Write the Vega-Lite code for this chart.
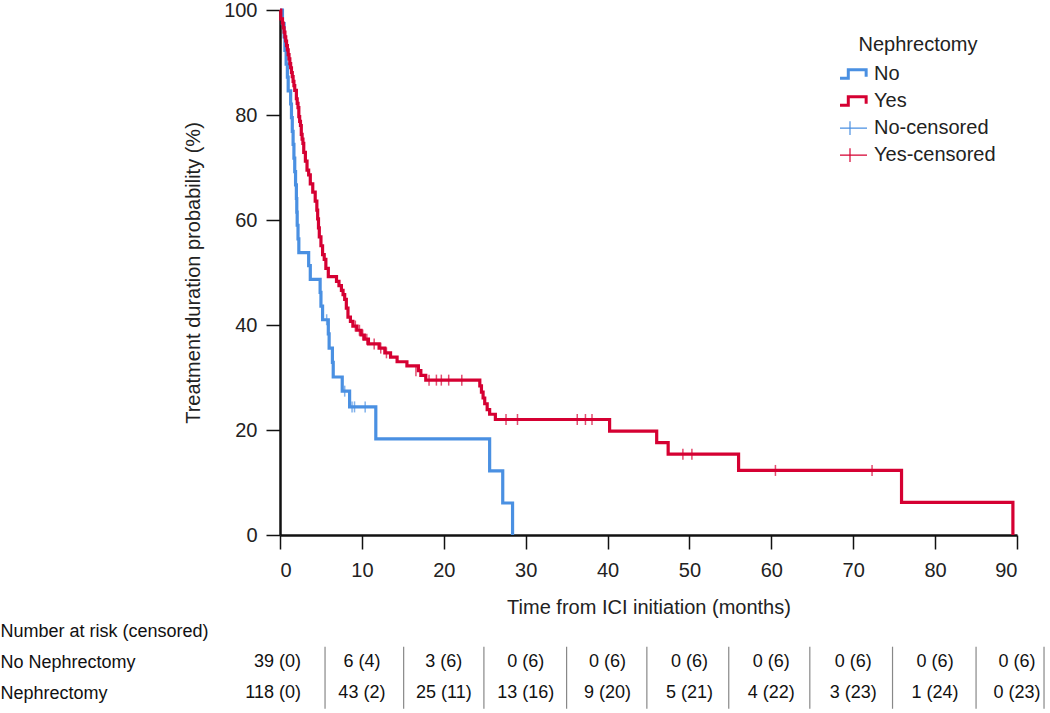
{
  "$schema": "https://vega.github.io/schema/vega-lite/v6.json",
  "background": "white",
  "padding": {"left": 0, "top": 0, "right": 0, "bottom": 0},
  "config": {
    "font": "Liberation Sans",
    "view": {"stroke": null},
    "axis": {"labelColor": "#222", "titleColor": "#222", "labelFont": "Liberation Sans", "titleFont": "Liberation Sans", "titleFontWeight": "normal", "grid": false},
    "legend": {"labelFont": "Liberation Sans", "titleFont": "Liberation Sans"}
  },
  "datasets": {
    "curves": [
      {"group": "No", "t": 0, "s": 100}, {"group": "No", "t": 0.3, "s": 97.4}, {"group": "No", "t": 0.5, "s": 94.9},
      {"group": "No", "t": 0.6, "s": 92.3}, {"group": "No", "t": 0.75, "s": 89.7}, {"group": "No", "t": 0.9, "s": 87.2},
      {"group": "No", "t": 1.0, "s": 84.6}, {"group": "No", "t": 1.3, "s": 82.1}, {"group": "No", "t": 1.4, "s": 79.5},
      {"group": "No", "t": 1.5, "s": 76.9}, {"group": "No", "t": 1.6, "s": 74.4}, {"group": "No", "t": 1.7, "s": 71.8},
      {"group": "No", "t": 1.8, "s": 69.2}, {"group": "No", "t": 1.9, "s": 66.7}, {"group": "No", "t": 2.0, "s": 64.1},
      {"group": "No", "t": 2.05, "s": 61.5}, {"group": "No", "t": 2.1, "s": 59.0}, {"group": "No", "t": 2.2, "s": 56.4},
      {"group": "No", "t": 2.3, "s": 53.8}, {"group": "No", "t": 3.5, "s": 51.3}, {"group": "No", "t": 3.7, "s": 48.7},
      {"group": "No", "t": 4.9, "s": 46.2}, {"group": "No", "t": 5.0, "s": 43.6}, {"group": "No", "t": 5.2, "s": 41.0},
      {"group": "No", "t": 5.9, "s": 38.3}, {"group": "No", "t": 6.0, "s": 35.6}, {"group": "No", "t": 6.4, "s": 32.9},
      {"group": "No", "t": 6.5, "s": 30.1}, {"group": "No", "t": 7.6, "s": 27.4}, {"group": "No", "t": 8.5, "s": 24.4},
      {"group": "No", "t": 11.7, "s": 18.3}, {"group": "No", "t": 25.6, "s": 12.2}, {"group": "No", "t": 27.2, "s": 6.1},
      {"group": "No", "t": 28.4, "s": 0},
      {"group": "Yes", "t": 0, "s": 100}, {"group": "Yes", "t": 0.1, "s": 98.3}, {"group": "Yes", "t": 0.3, "s": 97.5},
      {"group": "Yes", "t": 0.4, "s": 96.6}, {"group": "Yes", "t": 0.5, "s": 95.8}, {"group": "Yes", "t": 0.6, "s": 94.9},
      {"group": "Yes", "t": 0.7, "s": 94.1}, {"group": "Yes", "t": 0.8, "s": 93.2}, {"group": "Yes", "t": 0.9, "s": 92.4},
      {"group": "Yes", "t": 1.0, "s": 91.5}, {"group": "Yes", "t": 1.1, "s": 90.7}, {"group": "Yes", "t": 1.2, "s": 89.8},
      {"group": "Yes", "t": 1.3, "s": 89.0}, {"group": "Yes", "t": 1.4, "s": 88.1}, {"group": "Yes", "t": 1.5, "s": 87.3},
      {"group": "Yes", "t": 1.6, "s": 86.4}, {"group": "Yes", "t": 1.7, "s": 85.6}, {"group": "Yes", "t": 1.8, "s": 84.7},
      {"group": "Yes", "t": 2.0, "s": 83.1}, {"group": "Yes", "t": 2.1, "s": 82.2}, {"group": "Yes", "t": 2.2, "s": 81.4},
      {"group": "Yes", "t": 2.3, "s": 79.7}, {"group": "Yes", "t": 2.4, "s": 78.8}, {"group": "Yes", "t": 2.5, "s": 78.0},
      {"group": "Yes", "t": 2.6, "s": 76.3}, {"group": "Yes", "t": 2.7, "s": 75.4}, {"group": "Yes", "t": 2.8, "s": 74.6},
      {"group": "Yes", "t": 2.9, "s": 72.9}, {"group": "Yes", "t": 3.1, "s": 71.2}, {"group": "Yes", "t": 3.3, "s": 69.5},
      {"group": "Yes", "t": 3.5, "s": 68.6}, {"group": "Yes", "t": 3.7, "s": 66.9}, {"group": "Yes", "t": 4.0, "s": 65.3},
      {"group": "Yes", "t": 4.3, "s": 63.6}, {"group": "Yes", "t": 4.5, "s": 61.9}, {"group": "Yes", "t": 4.6, "s": 60.2},
      {"group": "Yes", "t": 4.7, "s": 58.5}, {"group": "Yes", "t": 4.8, "s": 56.8}, {"group": "Yes", "t": 5.0, "s": 55.1},
      {"group": "Yes", "t": 5.2, "s": 53.4}, {"group": "Yes", "t": 5.4, "s": 52.5}, {"group": "Yes", "t": 5.6, "s": 50.8},
      {"group": "Yes", "t": 5.9, "s": 49.2}, {"group": "Yes", "t": 6.9, "s": 48.3}, {"group": "Yes", "t": 7.2, "s": 47.5},
      {"group": "Yes", "t": 7.5, "s": 46.6}, {"group": "Yes", "t": 7.7, "s": 45.8}, {"group": "Yes", "t": 7.9, "s": 44.9},
      {"group": "Yes", "t": 8.1, "s": 43.2}, {"group": "Yes", "t": 8.3, "s": 41.5}, {"group": "Yes", "t": 8.6, "s": 40.7},
      {"group": "Yes", "t": 8.9, "s": 39.8}, {"group": "Yes", "t": 9.4, "s": 39.0}, {"group": "Yes", "t": 9.9, "s": 38.1},
      {"group": "Yes", "t": 10.3, "s": 37.3}, {"group": "Yes", "t": 10.8, "s": 36.4}, {"group": "Yes", "t": 12.1, "s": 35.6},
      {"group": "Yes", "t": 12.8, "s": 34.7}, {"group": "Yes", "t": 13.5, "s": 33.9}, {"group": "Yes", "t": 14.3, "s": 33.0},
      {"group": "Yes", "t": 15.5, "s": 32.2}, {"group": "Yes", "t": 16.9, "s": 31.3}, {"group": "Yes", "t": 17.2, "s": 30.4},
      {"group": "Yes", "t": 17.8, "s": 29.5}, {"group": "Yes", "t": 24.4, "s": 28.4}, {"group": "Yes", "t": 24.6, "s": 27.2},
      {"group": "Yes", "t": 24.8, "s": 26.1}, {"group": "Yes", "t": 25.0, "s": 25.0}, {"group": "Yes", "t": 25.3, "s": 23.9},
      {"group": "Yes", "t": 25.6, "s": 23.0}, {"group": "Yes", "t": 26.3, "s": 22.0}, {"group": "Yes", "t": 40.25, "s": 19.8},
      {"group": "Yes", "t": 46.0, "s": 17.6}, {"group": "Yes", "t": 47.4, "s": 15.4}, {"group": "Yes", "t": 56.0, "s": 12.3},
      {"group": "Yes", "t": 75.9, "s": 6.2}, {"group": "Yes", "t": 89.5, "s": 0}
    ],
    "censored": [
      {"group": "No-censored", "t": 5.7, "s": 41.0}, {"group": "No-censored", "t": 7.9, "s": 27.4},
      {"group": "No-censored", "t": 8.8, "s": 24.4}, {"group": "No-censored", "t": 9.1, "s": 24.4},
      {"group": "No-censored", "t": 10.4, "s": 24.4},
      {"group": "Yes-censored", "t": 9.2, "s": 39.8}, {"group": "Yes-censored", "t": 9.7, "s": 39.0},
      {"group": "Yes-censored", "t": 10.1, "s": 38.1}, {"group": "Yes-censored", "t": 10.6, "s": 37.3},
      {"group": "Yes-censored", "t": 11.5, "s": 36.4}, {"group": "Yes-censored", "t": 12.3, "s": 35.6},
      {"group": "Yes-censored", "t": 13.0, "s": 34.7}, {"group": "Yes-censored", "t": 16.6, "s": 31.3},
      {"group": "Yes-censored", "t": 18.2, "s": 29.5}, {"group": "Yes-censored", "t": 19.1, "s": 29.5},
      {"group": "Yes-censored", "t": 19.7, "s": 29.5}, {"group": "Yes-censored", "t": 20.6, "s": 29.5},
      {"group": "Yes-censored", "t": 22.2, "s": 29.5}, {"group": "Yes-censored", "t": 27.6, "s": 22.0},
      {"group": "Yes-censored", "t": 29.0, "s": 22.0}, {"group": "Yes-censored", "t": 36.3, "s": 22.0},
      {"group": "Yes-censored", "t": 37.3, "s": 22.0}, {"group": "Yes-censored", "t": 38.1, "s": 22.0},
      {"group": "Yes-censored", "t": 49.2, "s": 15.4}, {"group": "Yes-censored", "t": 50.3, "s": 15.4},
      {"group": "Yes-censored", "t": 60.5, "s": 12.3}, {"group": "Yes-censored", "t": 72.3, "s": 12.3}
    ],
    "risk": [
      {"row": 1, "t": 0, "label": "39 (0)"}, {"row": 1, "t": 10, "label": "6 (4)"}, {"row": 1, "t": 20, "label": "3 (6)"},
      {"row": 1, "t": 30, "label": "0 (6)"}, {"row": 1, "t": 40, "label": "0 (6)"}, {"row": 1, "t": 50, "label": "0 (6)"},
      {"row": 1, "t": 60, "label": "0 (6)"}, {"row": 1, "t": 70, "label": "0 (6)"}, {"row": 1, "t": 80, "label": "0 (6)"},
      {"row": 1, "t": 90, "label": "0 (6)"},
      {"row": 2, "t": 0, "label": "118 (0)"}, {"row": 2, "t": 10, "label": "43 (2)"}, {"row": 2, "t": 20, "label": "25 (11)"},
      {"row": 2, "t": 30, "label": "13 (16)"}, {"row": 2, "t": 40, "label": "9 (20)"}, {"row": 2, "t": 50, "label": "5 (21)"},
      {"row": 2, "t": 60, "label": "4 (22)"}, {"row": 2, "t": 70, "label": "3 (23)"}, {"row": 2, "t": 80, "label": "1 (24)"},
      {"row": 2, "t": 90, "label": "0 (23)"}
    ],
    "seps": [
      {"t": 5.5}, {"t": 15.1}, {"t": 24.9}, {"t": 35.0}, {"t": 44.8}, {"t": 54.8}, {"t": 64.7}, {"t": 74.8}, {"t": 85.0}, {"t": 93.3}
    ]
  },
  "spacing": 5,
  "resolve": {"scale": {"color": "independent", "x": "independent", "y": "independent"}, "legend": {"color": "independent"}},
  "vconcat": [
    {
      "width": 737,
      "height": 525,
      "layer": [
        {
          "data": {"name": "curves"},
          "mark": {"type": "line", "interpolate": "step-after", "strokeWidth": 3.2},
          "encoding": {
            "x": {"field": "t", "type": "quantitative", "scale": {"domain": [0, 90], "nice": false, "zero": false},
              "axis": {"values": [0, 10, 20, 30, 40, 50, 60, 70, 80, 90], "title": "Time from ICI initiation (months)",
                "tickSize": 14, "tickWidth": 1.5, "tickColor": "#111", "domainColor": "#111", "domainWidth": 2.5,
                "labelFontSize": 20, "labelPadding": 11, "titleFontSize": 20, "titlePadding": 17}},
            "y": {"field": "s", "type": "quantitative", "scale": {"domain": [0, 100], "nice": false},
              "axis": {"values": [0, 20, 40, 60, 80, 100], "title": "Treatment duration probability (%)",
                "tickSize": 14, "tickWidth": 1.5, "tickColor": "#111", "domainColor": "#111", "domainWidth": 2.5,
                "labelFontSize": 20, "labelPadding": 9, "titleFontSize": 20, "titlePadding": 20}},
            "color": {"field": "group", "type": "nominal",
              "scale": {"domain": ["No", "Yes", "No-censored", "Yes-censored"], "range": ["#4a90e2", "#d50032", "#4a90e2", "#d50032"]},
              "legend": {"title": "Nephrectomy", "orient": "none", "legendX": 560, "legendY": 25,
                "titleFontSize": 20, "titleFontWeight": "normal", "titleAnchor": "middle", "titleColor": "#222",
                "labelFontSize": 20, "labelColor": "#222", "symbolSize": 1156, "symbolStrokeWidth": 3,
                "rowPadding": 0, "clipHeight": 26.2, "labelOffset": 14, "titlePadding": 6,
                "encode": {"symbols": {"update": {
                  "shape": {"signal": "(datum.value === 'No' || datum.value === 'Yes') ? 'M-1,0.25H-0.1V-0.25H0.95V0.15' : 'M-1,0H1M0,-0.4V0.4'"},
                  "strokeWidth": {"signal": "(datum.value === 'No' || datum.value === 'Yes') ? 3 : 1.2"},
                  "fill": {"value": "transparent"},
                  "fillOpacity": {"value": 0}
                }}}}
            }
          }
        },
        {
          "data": {"name": "censored"},
          "mark": {"type": "tick", "orient": "vertical", "size": 11, "thickness": 1.5},
          "encoding": {
            "x": {"field": "t", "type": "quantitative"},
            "y": {"field": "s", "type": "quantitative"},
            "color": {"field": "group", "type": "nominal"}
          }
        }
      ]
    },
    {
      "width": 737,
      "height": 85,
      "layer": [
        {
          "data": {"name": "risk"},
          "transform": [{"filter": "datum.t > 0"}],
          "mark": {"type": "text", "align": "center", "baseline": "middle", "fontSize": 18, "color": "#111"},
          "encoding": {
            "x": {"field": "t", "type": "quantitative", "scale": {"domain": [0, 90], "nice": false, "zero": false}, "axis": null},
            "y": {"field": "row", "type": "quantitative", "scale": {"domain": [-0.2, 2.54], "reverse": true, "nice": false, "zero": false},
              "axis": {"values": [0, 1, 2], "labelExpr": "['Number at risk (censored)', 'No Nephrectomy', 'Nephrectomy'][datum.value]",
                "ticks": false, "domain": false, "labelAlign": "left", "labelBaseline": "middle", "labelPadding": 280,
                "labelLimit": 400, "labelFontSize": 18, "labelColor": "#111", "title": null}},
            "text": {"field": "label", "type": "nominal"}
          }
        },
        {
          "data": {"name": "risk"},
          "transform": [{"filter": "datum.t === 0"}],
          "mark": {"type": "text", "align": "right", "baseline": "middle", "fontSize": 18, "color": "#111", "dx": 21},
          "encoding": {
            "x": {"field": "t", "type": "quantitative"},
            "y": {"field": "row", "type": "quantitative"},
            "text": {"field": "label", "type": "nominal"}
          }
        },
        {
          "data": {"name": "seps"},
          "mark": {"type": "rule", "color": "#888", "strokeWidth": 1.2},
          "encoding": {
            "x": {"field": "t", "type": "quantitative"},
            "y": {"datum": 0.5},
            "y2": {"datum": 2.5}
          }
        }
      ]
    }
  ]
}
